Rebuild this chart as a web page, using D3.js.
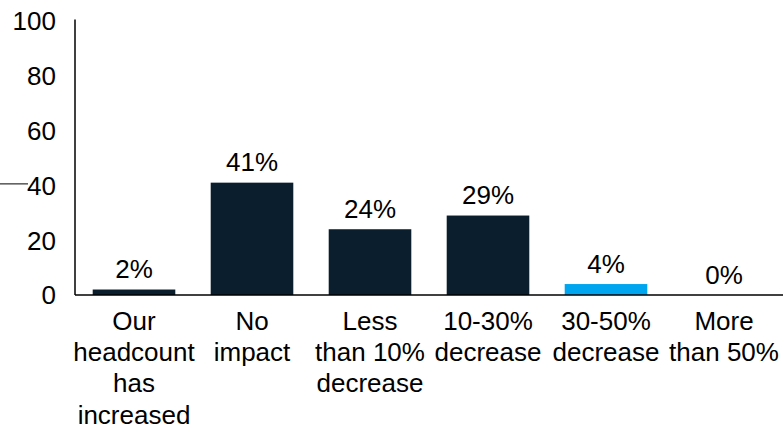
<!DOCTYPE html>
<html>
<head>
<meta charset="utf-8">
<script src="https://cdn.jsdelivr.net/npm/d3@7"></script>
<style>
  html, body { margin: 0; padding: 0; background: #fff; overflow: hidden; }
  svg { display: block; font-family: "Liberation Sans", Arial, sans-serif; }
</style>
</head>
<body>
<svg id="chart" width="783" height="427"></svg>
<script>
// Headcount impact categories (each label split into display lines)
const categories = [
  ["Our", "headcount", "has", "increased"],
  ["No", "impact"],
  ["Less", "than 10%", "decrease"],
  ["10-30%", "decrease"],
  ["30-50%", "decrease"],
  ["More", "than 50%"]
];
const values = [2, 41, 24, 29, 4, 0];
const barColors = ["#0b1e2d", "#0b1e2d", "#0b1e2d", "#0b1e2d", "#00a5ef", "#0b1e2d"];
const yTicks = [0, 20, 40, 60, 80, 100];

const svg = d3.select("#chart");
const plotLeft = 75, plotRight = 783, plotTop = 21, plotBottom = 295;
const fontSize = 26;

const x = d3.scaleBand()
  .domain(d3.range(categories.length))
  .range([plotLeft, plotRight])
  .paddingInner(0.3)
  .paddingOuter(0.15);

const y = d3.scaleLinear().domain([0, 100]).range([plotBottom, plotTop]);

// Bars
svg.append("g").selectAll("rect")
  .data(values)
  .join("rect")
  .attr("x", (d, i) => x(i))
  .attr("y", d => y(d))
  .attr("width", x.bandwidth())
  .attr("height", d => y(0) - y(d))
  .attr("fill", (d, i) => barColors[i]);

// Value labels
svg.append("g").selectAll("text")
  .data(values)
  .join("text")
  .attr("x", (d, i) => x(i) + x.bandwidth() / 2)
  .attr("y", d => y(d) - 11.5)
  .attr("text-anchor", "middle")
  .attr("font-size", fontSize)
  .attr("fill", "#000")
  .text(d => d + "%");

// Y axis labels and vertical line
svg.append("g").selectAll("text")
  .data(yTicks)
  .join("text")
  .attr("x", 56)
  .attr("y", d => y(d))
  .attr("dy", "0.36em")
  .attr("text-anchor", "end")
  .attr("font-size", fontSize)
  .attr("fill", "#000")
  .text(d => d);

svg.append("line")
  .attr("x1", plotLeft).attr("x2", plotLeft)
  .attr("y1", y(100) - 1.5).attr("y2", y(0))
  .attr("stroke", "#000").attr("stroke-width", 1.5);

// X axis baseline
svg.append("line")
  .attr("x1", plotLeft).attr("x2", plotRight)
  .attr("y1", y(0)).attr("y2", y(0))
  .attr("stroke", "#000").attr("stroke-width", 1.5);

// Short leader line running into the 40 tick label
svg.append("line")
  .attr("x1", 0).attr("x2", 28)
  .attr("y1", y(40) - 1.5).attr("y2", y(40) - 1.5)
  .attr("stroke", "#000").attr("stroke-width", 1);

// Category labels
const cat = svg.append("g").selectAll("text")
  .data(categories)
  .join("text")
  .attr("x", (d, i) => x(i) + x.bandwidth() / 2)
  .attr("y", 330)
  .attr("text-anchor", "middle")
  .attr("font-size", fontSize)
  .attr("fill", "#000");

cat.selectAll("tspan")
  .data(d => d)
  .join("tspan")
  .attr("x", function () { return d3.select(this.parentNode).attr("x"); })
  .attr("dy", (d, i) => i === 0 ? 0 : 31.2)
  .text(d => d);
</script>
</body>
</html>
